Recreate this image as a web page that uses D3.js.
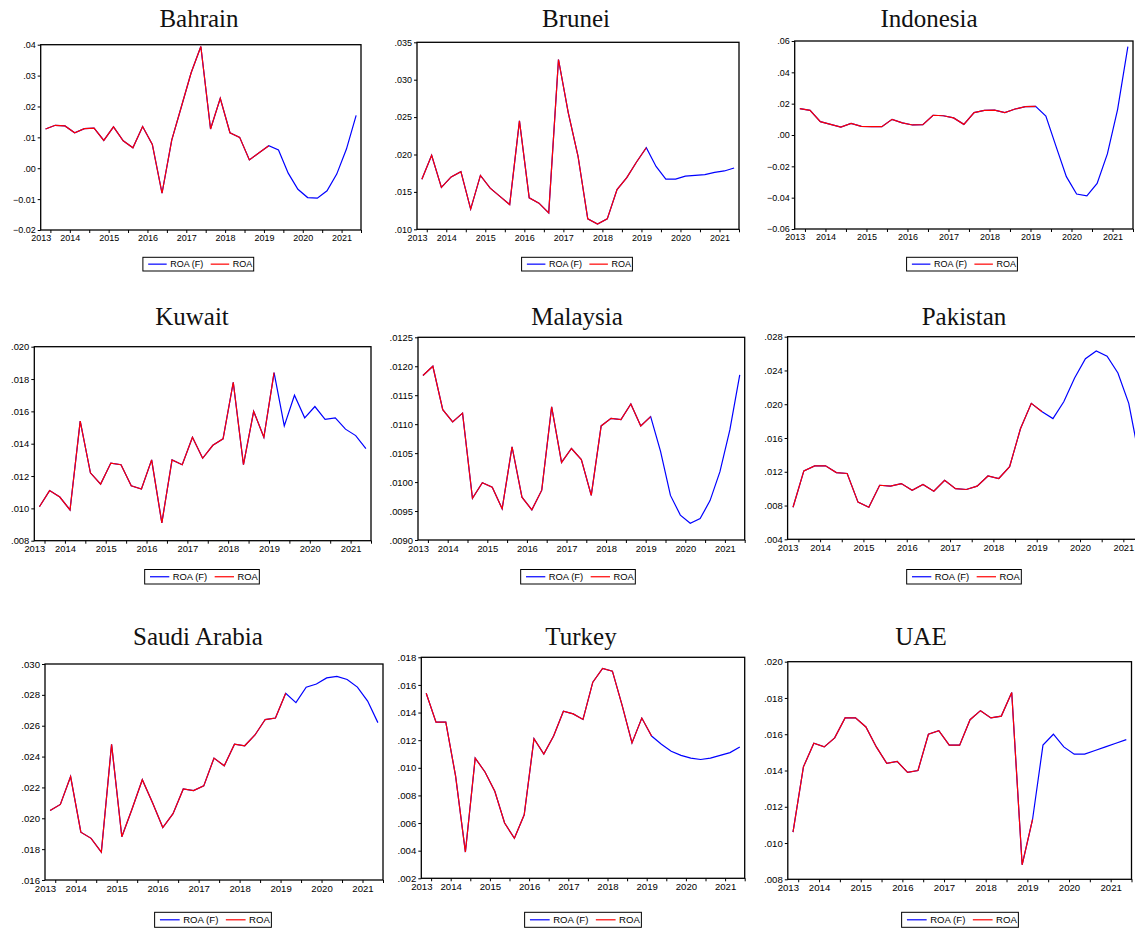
<!DOCTYPE html>
<html><head><meta charset="utf-8">
<script src="https://cdn.jsdelivr.net/npm/d3@7"></script>
<style>body{margin:0;background:#fff} svg{display:block}</style>
</head><body><svg id="c" width="1135" height="929"></svg>
<script>
// Quarterly observations 2013Q4 .. 2021Q4
const quarters = ["2013Q4","2014Q1","2014Q2","2014Q3","2014Q4","2015Q1","2015Q2","2015Q3","2015Q4",
  "2016Q1","2016Q2","2016Q3","2016Q4","2017Q1","2017Q2","2017Q3","2017Q4","2018Q1","2018Q2","2018Q3","2018Q4",
  "2019Q1","2019Q2","2019Q3","2019Q4","2020Q1","2020Q2","2020Q3","2020Q4","2021Q1","2021Q2","2021Q3","2021Q4"];
const yearLabels = ["2013","2014","2015","2016","2017","2018","2019","2020","2021"];
const countries = ["Bahrain","Brunei","Indonesia","Kuwait","Malaysia","Pakistan","Saudi Arabia","Turkey","UAE"];
const seriesNames = ["ROA (F)","ROA"];
const lastActual = "2019Q3"; // ROA (actual) ends here, ROA (F) continues

const bahrain = [.0127,.0139,.0137,.0115,.0128,.0130,.0090,.0134,.0089,.0066,.0135,.0077,-.0081,.0091,.0200,.0309,.0394,
  .0127,.0226,.0115,.0100,.0027,.0050,.0073,.0059,-.0016,-.0068,-.0095,-.0097,-.0073,-.0019,.0062,.0171];
const brunei = [.0167,.0199,.0156,.0170,.0177,.0127,.0172,.0155,.0144,.0133,.0245,.0142,.0135,.0122,.0327,.0256,.0198,
  .0114,.0107,.0114,.0153,.0169,.0190,.0209,.0184,.0167,.0167,.0171,.0172,.0173,.0176,.0178,.0182];
const indonesia = [.0168,.0157,.0085,.0068,.0051,.0074,.0055,.0053,.0053,.0100,.0077,.0064,.0066,.0126,.0123,.0109,.0068,
  .0143,.0157,.0159,.0143,.0166,.0181,.0183,.0121,-.0074,-.0266,-.0377,-.0389,-.0309,-.0121,.0164,.0564];
const kuwait = [.0101,.0111,.0107,.0099,.0154,.0122,.0115,.0128,.0127,.0114,.0112,.0130,.0091,.0130,.0127,.0144,.0131,
  .0139,.0143,.0178,.0127,.0160,.0144,.0184,.0151,.0170,.0156,.0163,.0155,.0156,.0149,.0145,.0137];
const malaysia = [.01184,.01200,.01125,.01104,.01119,.00972,.00999,.00991,.00954,.01061,.00974,.00952,.00986,.01130,.01034,
  .01058,.01039,.00977,.01097,.01110,.01108,.01135,.01097,.01113,.01053,.00977,.00943,.00929,.00937,.00968,.01018,.01090,.01185];
const pakistan = [.0078,.0121,.0127,.0127,.0119,.0118,.0084,.0078,.0104,.0103,.0106,.0098,.0105,.0097,.0110,.0100,.0099,
  .0103,.0115,.0112,.0126,.0171,.0201,.0191,.0183,.0203,.0231,.0254,.0263,.0257,.0237,.0201,.0135];
const saudiArabia = [.0205,.0209,.0227,.0191,.0187,.0178,.0248,.0188,.0206,.0225,.0210,.0194,.0203,.0219,.0218,.0221,.0239,
  .0234,.0248,.0247,.0254,.0264,.0265,.0281,.0275,.0285,.0287,.0291,.0292,.0290,.0285,.0276,.0262];
const turkey = [.0154,.0133,.0133,.0094,.0039,.0107,.0097,.0083,.0060,.0049,.0066,.0121,.0110,.0123,.0141,.0139,.0135,
  .0162,.0172,.0170,.0145,.0118,.0136,.0123,.0117,.0112,.0109,.0107,.0106,.0107,.0109,.0111,.0115];
const uae = [.0106,.0142,.0155,.0153,.0158,.0169,.0169,.0164,.0153,.0144,.0145,.0139,.0140,.0160,.0162,.0154,.0154,
  .0168,.0173,.0169,.0170,.0183,.0088,.0113,.0154,.0160,.0153,.0149,.0149,.0151,.0153,.0155,.0157];
const allSeries = [bahrain, brunei, indonesia, kuwait, malaysia, pakistan, saudiArabia, turkey, uae];

// y axis: [min, max, step, decimals]
const yAxes = [[-0.02,0.04,0.01,2],[0.010,0.035,0.005,3],[-0.06,0.06,0.02,2],
  [0.008,0.020,0.002,3],[0.0090,0.0125,0.0005,4],[0.004,0.028,0.004,3],
  [0.016,0.030,0.002,3],[0.002,0.018,0.002,3],[0.008,0.020,0.002,3]];

// layout of each panel (pixels)
const layout = [
  {l:40.7,t:44.7,r:361,b:230,tx:199,ty:27.3,ly:257.3,lh:13.7,lx:198.3,fs:9},
  {l:417,t:42.3,r:739,b:229.3,tx:576,ty:27.3,ly:257.3,lh:13.7,lx:577,fs:9},
  {l:794.7,t:41,r:1133,b:229,tx:929,ty:27.3,ly:257.3,lh:13.7,lx:962,fs:9},
  {l:34.3,t:346.7,r:371,b:540.7,tx:192,ty:325,ly:569.5,lh:14.5,lx:202,fs:9.4},
  {l:418,t:337.3,r:744.7,b:540,tx:577,ty:325,ly:569.5,lh:14.5,lx:578,fs:9.4},
  {l:787.6,t:336.7,r:1145,b:539.3,tx:964,ty:325,ly:569.5,lh:14.5,lx:964,fs:9.4},
  {l:45,t:664,r:383,b:880,tx:198,ty:645,ly:912.3,lh:15,lx:213,fs:9.6},
  {l:421.3,t:657.3,r:744.7,b:878.3,tx:581,ty:645,ly:912.3,lh:15,lx:583,fs:9.6},
  {l:787.8,t:661.7,r:1131.5,b:879.3,tx:921,ty:645,ly:912.3,lh:15,lx:960,fs:9.6}
];

const BLUE = "#0000ff", RED = "#ff0000";
const svg = d3.select("#c");
svg.append("rect").attr("width",1135).attr("height",929).attr("fill","#fff");

function fmt(dec){
  const f = d3.format("."+dec+"f");
  return v => f(v).replace(/^(-?)0\./, "$1.");
}

const actualIdx = quarters.indexOf(lastActual);

countries.forEach((name, p) => {
  const L = layout[p], data = allSeries[p], [ymin, ymax, ystep, dec] = yAxes[p];
  const g = svg.append("g");
  const x = d3.scaleLinear().domain([-0.5, quarters.length - 0.5]).range([L.l, L.r]);
  const y = d3.scaleLinear().domain([ymin, ymax]).range([L.b, L.t]);
  const nT = Math.round((ymax - ymin) / ystep);
  const yTicks = d3.range(nT + 1).map(i => +(ymin + i * ystep).toFixed(6));

  // title
  g.append("text").attr("x", L.tx).attr("y", L.ty).attr("text-anchor","middle")
    .attr("font-family","'Liberation Serif','Times New Roman',serif").attr("font-size",25)
    .attr("fill","#111").text(name);

  // y axis
  const ya = g.append("g").attr("transform",`translate(${L.l},0)`)
    .call(d3.axisLeft(y).tickValues(yTicks).tickSize(3).tickPadding(2).tickFormat(fmt(dec)));
  ya.select(".domain").remove();
  ya.selectAll("line").attr("stroke","#000");
  ya.selectAll("text").attr("font-family","'Liberation Sans',Arial,sans-serif").attr("font-size",L.fs).attr("fill","#000");

  // x axis ticks: year boundaries and mid-years
  const tickPos = d3.range(0.5, quarters.length, 2);
  const xa = g.append("g").attr("transform",`translate(0,${L.b})`)
    .call(d3.axisBottom(x).tickValues(tickPos).tickSize(3).tickFormat(""));
  xa.select(".domain").remove();
  xa.selectAll("line").attr("stroke","#000");

  // year labels at mid-year (2013 at left border)
  const labelPos = yearLabels.map((yr, i) => {
    const q = quarters.indexOf(yr + "Q2");
    return q >= 0 ? q + 0.5 : -0.5;
  });
  const xl = g.append("g").attr("transform",`translate(0,${L.b})`)
    .call(d3.axisBottom(x).tickValues(labelPos).tickSize(0).tickPadding(5)
      .tickFormat((d, i) => yearLabels[i]));
  xl.select(".domain").remove();
  xl.selectAll("text").attr("font-family","'Liberation Sans',Arial,sans-serif").attr("font-size",L.fs).attr("fill","#000");

  // lines
  const line = d3.line().x((d, i) => x(i)).y(d => y(d));
  const clipId = "clip" + p;
  g.append("clipPath").attr("id", clipId).append("rect")
    .attr("x", L.l).attr("y", L.t - 2).attr("width", L.r - L.l).attr("height", L.b - L.t + 4);
  g.append("path").datum(data).attr("d", line).attr("fill","none")
    .attr("stroke", BLUE).attr("stroke-width",1.2).attr("clip-path",`url(#${clipId})`);
  g.append("path").datum(data.slice(0, actualIdx + 1)).attr("d", line).attr("fill","none")
    .attr("stroke", RED).attr("stroke-width",1.2).attr("clip-path",`url(#${clipId})`);

  // frame
  g.append("rect").attr("x",L.l).attr("y",L.t).attr("width",L.r-L.l).attr("height",L.b-L.t)
    .attr("fill","none").attr("stroke","#000").attr("stroke-width",1.3);

  // legend
  const lg = g.append("g");
  const box = lg.append("rect").attr("fill","#fff").attr("stroke","#000").attr("stroke-width",1);
  const lineLen = 18.5 * L.fs / 9;
  let cx = 0;
  const cy = L.lh / 2;
  const colors = [BLUE, RED];
  seriesNames.forEach((s, i) => {
    cx += i === 0 ? 5.3 : 7.5;
    lg.append("line").attr("x1",cx).attr("x2",cx+lineLen).attr("y1",cy).attr("y2",cy)
      .attr("stroke",colors[i]).attr("stroke-width",1.2);
    cx += lineLen + 3.5;
    const t = lg.append("text").attr("x",cx).attr("y",cy).attr("dy","0.35em")
      .attr("font-family","'Liberation Sans',Arial,sans-serif").attr("font-size",L.fs).text(s);
    cx += t.node().getComputedTextLength();
  });
  cx += 1.5;
  box.attr("x",0).attr("y",0).attr("width",cx).attr("height",L.lh);
  lg.attr("transform",`translate(${L.lx - cx/2},${L.ly})`);
});
</script></body></html>
